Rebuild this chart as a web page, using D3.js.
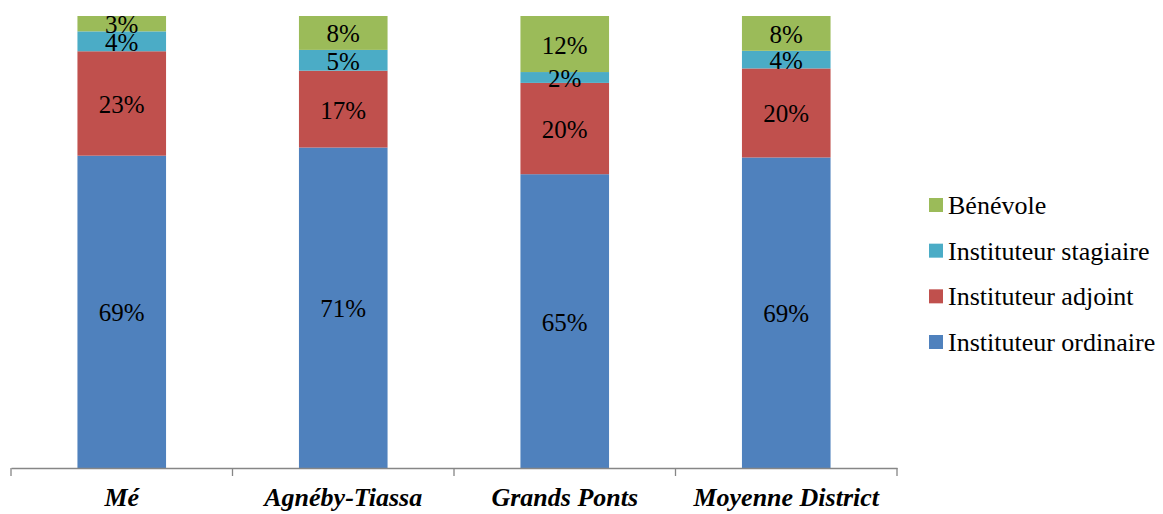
<!DOCTYPE html>
<html><head><meta charset="utf-8">
<script src="https://cdn.jsdelivr.net/npm/d3@7"></script>
<style>body{margin:0;background:#fff}svg{display:block}
text{font-family:"Liberation Serif","Times New Roman",Times,"DejaVu Serif",serif}</style>
</head><body>
<svg id="c" width="1163" height="514"></svg>
<script>
const categories = ["Mé", "Agnéby-Tiassa", "Grands Ponts", "Moyenne District"];
const seriesNames = ["Instituteur ordinaire", "Instituteur adjoint", "Instituteur stagiaire", "Bénévole"];
const ordinaire = [69.1, 70.9, 65.0, 68.7];
const adjoint   = [23.1, 17.0, 20.2, 19.7];
const stagiaire = [4.4, 4.6, 2.4, 3.9];
const benevole  = [3.4, 7.5, 12.4, 7.7];
const colors = ["#4F81BD", "#C0504D", "#4BACC6", "#9BBB59"];

(function () {
const svg = d3.select("#c");
const mLeft = 11, mRight = 897, mTop = 16, mBottom = 468;

const rows = categories.map((c, i) => ({cat: c, s0: ordinaire[i], s1: adjoint[i], s2: stagiaire[i], s3: benevole[i]}));
const stack = d3.stack().keys(["s0","s1","s2","s3"]).offset(d3.stackOffsetExpand);
const series = stack(rows);

const x = d3.scaleBand().domain(categories).range([mLeft, mRight]).padding(0);
const y = d3.scaleLinear().domain([0, 1]).range([mBottom, mTop]);
const bw = x.bandwidth() * 0.4;

const g = svg.append("g");
series.forEach((s, si) => {
  g.selectAll(null).data(s).enter().append("rect")
    .attr("x", d => x(d.data.cat) + (x.bandwidth() - bw) / 2)
    .attr("y", d => y(d[1]))
    .attr("width", bw)
    .attr("height", d => y(d[0]) - y(d[1]))
    .attr("fill", colors[si]);
});
series.forEach((s, si) => {
  g.selectAll(null).data(s).enter().append("text")
    .attr("x", d => x(d.data.cat) + x.bandwidth() / 2)
    .attr("y", d => (y(d[0]) + y(d[1])) / 2)
    .attr("dy", "0.38em")
    .attr("text-anchor", "middle")
    .attr("font-size", 25)
    .attr("fill", "#000")
    .text(d => Math.round(d.data["s" + si]) + "%");
});

const axis = svg.append("g").attr("transform", `translate(0,${mBottom})`)
  .call(d3.axisBottom(x).tickSize(0).tickFormat(""));
axis.select(".domain").attr("stroke", "#868686").attr("stroke-width", 1.3);
const edges = categories.map(c => x(c)).concat([mRight]);
axis.selectAll(".edge").data(edges).enter().append("line")
  .attr("x1", d => d).attr("x2", d => d).attr("y1", 0).attr("y2", 8)
  .attr("stroke", "#868686").attr("stroke-width", 1.3);
svg.append("g").selectAll("text").data(categories).enter().append("text")
  .attr("x", d => x(d) + x.bandwidth() / 2)
  .attr("y", 506)
  .attr("text-anchor", "middle")
  .attr("font-weight", "bold")
  .attr("font-style", "italic")
  .attr("font-size", 26)
  .text(d => d);

const legendOrder = [3, 2, 1, 0];
const ly = d3.scalePoint().domain(legendOrder).range([205, 342]);
const leg = svg.append("g");
legendOrder.forEach(i => {
  leg.append("rect").attr("x", 929).attr("y", ly(i) - 7).attr("width", 14).attr("height", 14).attr("fill", colors[i]);
  leg.append("text").attr("x", 948).attr("y", ly(i)).attr("dy", "0.34em")
    .attr("font-size", 26).text(seriesNames[i]);
});
})();
</script>
</body></html>
